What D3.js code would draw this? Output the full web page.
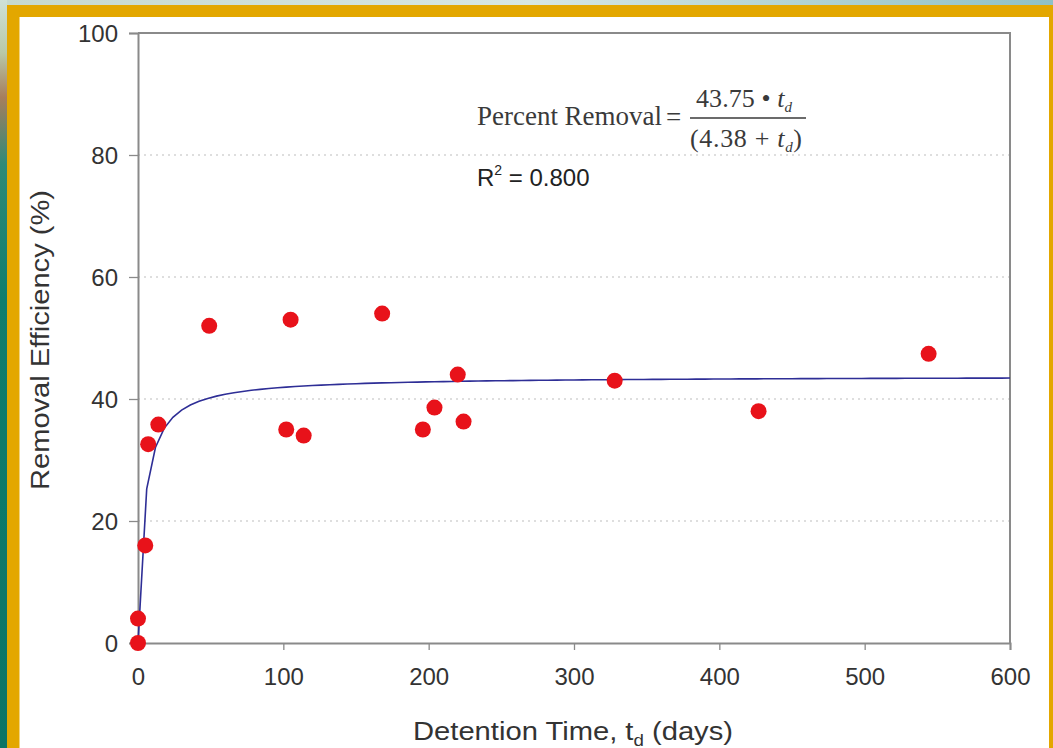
<!DOCTYPE html>
<html>
<head>
<meta charset="utf-8">
<script src="https://cdn.jsdelivr.net/npm/d3@7"></script>
<style>
  html, body { margin: 0; padding: 0; background: #ffffff; }
  svg { display: block; }
</style>
</head>
<body>
<div id="chart"></div>
<script>
// Measured removal efficiency vs. detention time
const detentionDays = [0, 0, 5, 7, 14, 49, 102, 105, 114, 168, 196, 204, 220, 224, 328, 427, 544];
const removalPct    = [0, 4, 16, 32.6, 35.8, 52, 35, 53, 34, 54, 35, 38.6, 44, 36.3, 43, 38, 47.4];

// Fitted saturation model: removal = a * t / (b + t)
const fitCoefficients = [43.75, 4.38];
const rSquared = "0.800";

const xTicks = [0, 100, 200, 300, 400, 500, 600];
const yTicks = [0, 20, 40, 60, 80, 100];
const gridValues = [20, 40, 60, 80];

const W = 1053, H = 748;
const plot = { left: 138, right: 1010, top: 33, bottom: 643 };

const svg = d3.select("#chart").append("svg")
  .attr("width", W).attr("height", H);

// ---- slide backdrop and golden frame ----
const defs = svg.append("defs");
const sideGrad = defs.append("linearGradient").attr("id", "side")
  .attr("x1", 0).attr("y1", 0).attr("x2", 0).attr("y2", 1);
[["0%", "#cfe1d8"], ["7%", "#b9c9a8"], ["13%", "#a67e5e"], ["22%", "#2f8a78"], ["40%", "#0f7d6d"], ["100%", "#0c7466"]]
  .forEach(([o, c]) => sideGrad.append("stop").attr("offset", o).attr("stop-color", c));
const topGrad = defs.append("linearGradient").attr("id", "topband")
  .attr("x1", 0).attr("y1", 0).attr("x2", 1).attr("y2", 0);
[["0%", "#c6d9cf"], ["50%", "#d7e7e2"], ["100%", "#8fc1c6"]]
  .forEach(([o, c]) => topGrad.append("stop").attr("offset", o).attr("stop-color", c));

svg.append("rect").attr("x", 0).attr("y", 0).attr("width", W).attr("height", H).attr("fill", "url(#side)");
svg.append("rect").attr("x", 7).attr("y", 0).attr("width", W - 7).attr("height", 6).attr("fill", "url(#topband)");
svg.append("rect").attr("x", 7).attr("y", 5).attr("width", W - 7).attr("height", H).attr("fill", "#e3a700");
svg.append("rect").attr("x", 19.5).attr("y", 17).attr("width", 1049 - 19.5).attr("height", H).attr("fill", "#ffffff");

// ---- scales ----
const x = d3.scaleLinear().domain([0, 600]).range([plot.left, plot.right]);
const y = d3.scaleLinear().domain([0, 100]).range([plot.bottom, plot.top]);

// ---- gridlines ----
svg.append("g").selectAll("line").data(gridValues).join("line")
  .attr("x1", plot.left).attr("x2", plot.right)
  .attr("y1", d => y(d)).attr("y2", d => y(d))
  .attr("stroke", "#bdbdbd").attr("stroke-width", 1.2)
  .attr("stroke-dasharray", "2,4");

// ---- axes ----
const axisColor = "#8a8a8a";
const tickFont = "Liberation Sans, Arial, sans-serif";

const gx = svg.append("g").attr("transform", `translate(0,${plot.bottom})`)
  .call(d3.axisBottom(x).tickValues(xTicks).tickSize(7).tickPadding(18).tickFormat(d3.format("d")));
const gy = svg.append("g").attr("transform", `translate(${plot.left},0)`)
  .call(d3.axisLeft(y).tickValues(yTicks).tickSize(9).tickPadding(11).tickFormat(d3.format("d")));
[gx, gy].forEach(g => {
  g.select(".domain").attr("stroke", axisColor).attr("stroke-width", 2);
  g.selectAll(".tick line").attr("stroke", axisColor).attr("stroke-width", 1.3);
  g.selectAll(".tick text").attr("fill", "#333").attr("font-family", tickFont).attr("font-size", 24);
});
gy.selectAll(".tick text").attr("dy", "0.36em");

// top and right frame
svg.append("path")
  .attr("d", `M${plot.left},${plot.top}H${plot.right}V${plot.bottom}`)
  .attr("fill", "none").attr("stroke", axisColor).attr("stroke-width", 2);

// ---- fitted curve ----
const [fa, fb] = fitCoefficients;
const fitT = d3.range(0, 601, 6);
const line = d3.line().x(t => x(t)).y(t => y(fa * t / (fb + t)));
svg.append("path").datum(fitT)
  .attr("d", line)
  .attr("fill", "none").attr("stroke", "#2e2e96").attr("stroke-width", 1.6);

// ---- observations ----
svg.append("g").selectAll("circle").data(detentionDays).join("circle")
  .attr("cx", d => x(d))
  .attr("cy", (d, i) => y(removalPct[i]))
  .attr("r", 8)
  .attr("fill", "#e8121a");

// ---- equation annotation ----
const serif = "Liberation Serif, 'Times New Roman', serif";
const eq = svg.append("g").attr("fill", "#3a3a3a").attr("font-family", serif);
eq.append("text").attr("x", 477).attr("y", 125).attr("font-size", 27)
  .attr("textLength", 185).attr("lengthAdjust", "spacingAndGlyphs")
  .text("Percent Removal");
eq.append("text").attr("x", 666).attr("y", 126).attr("font-size", 27).text("=");
const num = eq.append("text").attr("x", 696).attr("y", 107).attr("font-size", 26)
  .attr("textLength", 96).attr("lengthAdjust", "spacing");
num.append("tspan").text(`${fa} \u2022 `);
num.append("tspan").attr("font-style", "italic").text("t");
num.append("tspan").attr("font-style", "italic").attr("font-size", 15).attr("dy", 5).text("d");
eq.append("line").attr("x1", 690).attr("x2", 806).attr("y1", 118).attr("y2", 118)
  .attr("stroke", "#3a3a3a").attr("stroke-width", 1.3);
const den = eq.append("text").attr("x", 690).attr("y", 147).attr("font-size", 26)
  .attr("textLength", 112).attr("lengthAdjust", "spacing");
den.append("tspan").text(`(${fb} + `);
den.append("tspan").attr("font-style", "italic").text("t");
den.append("tspan").attr("font-style", "italic").attr("font-size", 15).attr("dy", 5).text("d");
den.append("tspan").attr("dy", -5).text(")");

const r2 = svg.append("text").attr("x", 477).attr("y", 186)
  .attr("font-family", tickFont).attr("font-size", 24).attr("fill", "#222");
r2.append("tspan").text("R");
r2.append("tspan").attr("font-size", 14).attr("dy", -11).text("2");
r2.append("tspan").attr("dy", 11).text(` = ${rSquared}`);

// ---- axis titles ----
const xt = svg.append("text")
  .attr("x", 413).attr("y", 740)
  .attr("textLength", 320).attr("lengthAdjust", "spacingAndGlyphs")
  .attr("font-family", tickFont).attr("font-size", 25).attr("fill", "#333");
xt.append("tspan").text("Detention Time, t");
xt.append("tspan").attr("font-size", 16).attr("dy", 6).text("d");
xt.append("tspan").attr("dy", -6).text(" (days)");

svg.append("text")
  .attr("transform", "translate(49,490) rotate(-90)")
  .attr("textLength", 300).attr("lengthAdjust", "spacingAndGlyphs")
  .attr("font-family", tickFont).attr("font-size", 25).attr("fill", "#333")
  .text("Removal Efficiency (%)");
</script>
</body>
</html>
